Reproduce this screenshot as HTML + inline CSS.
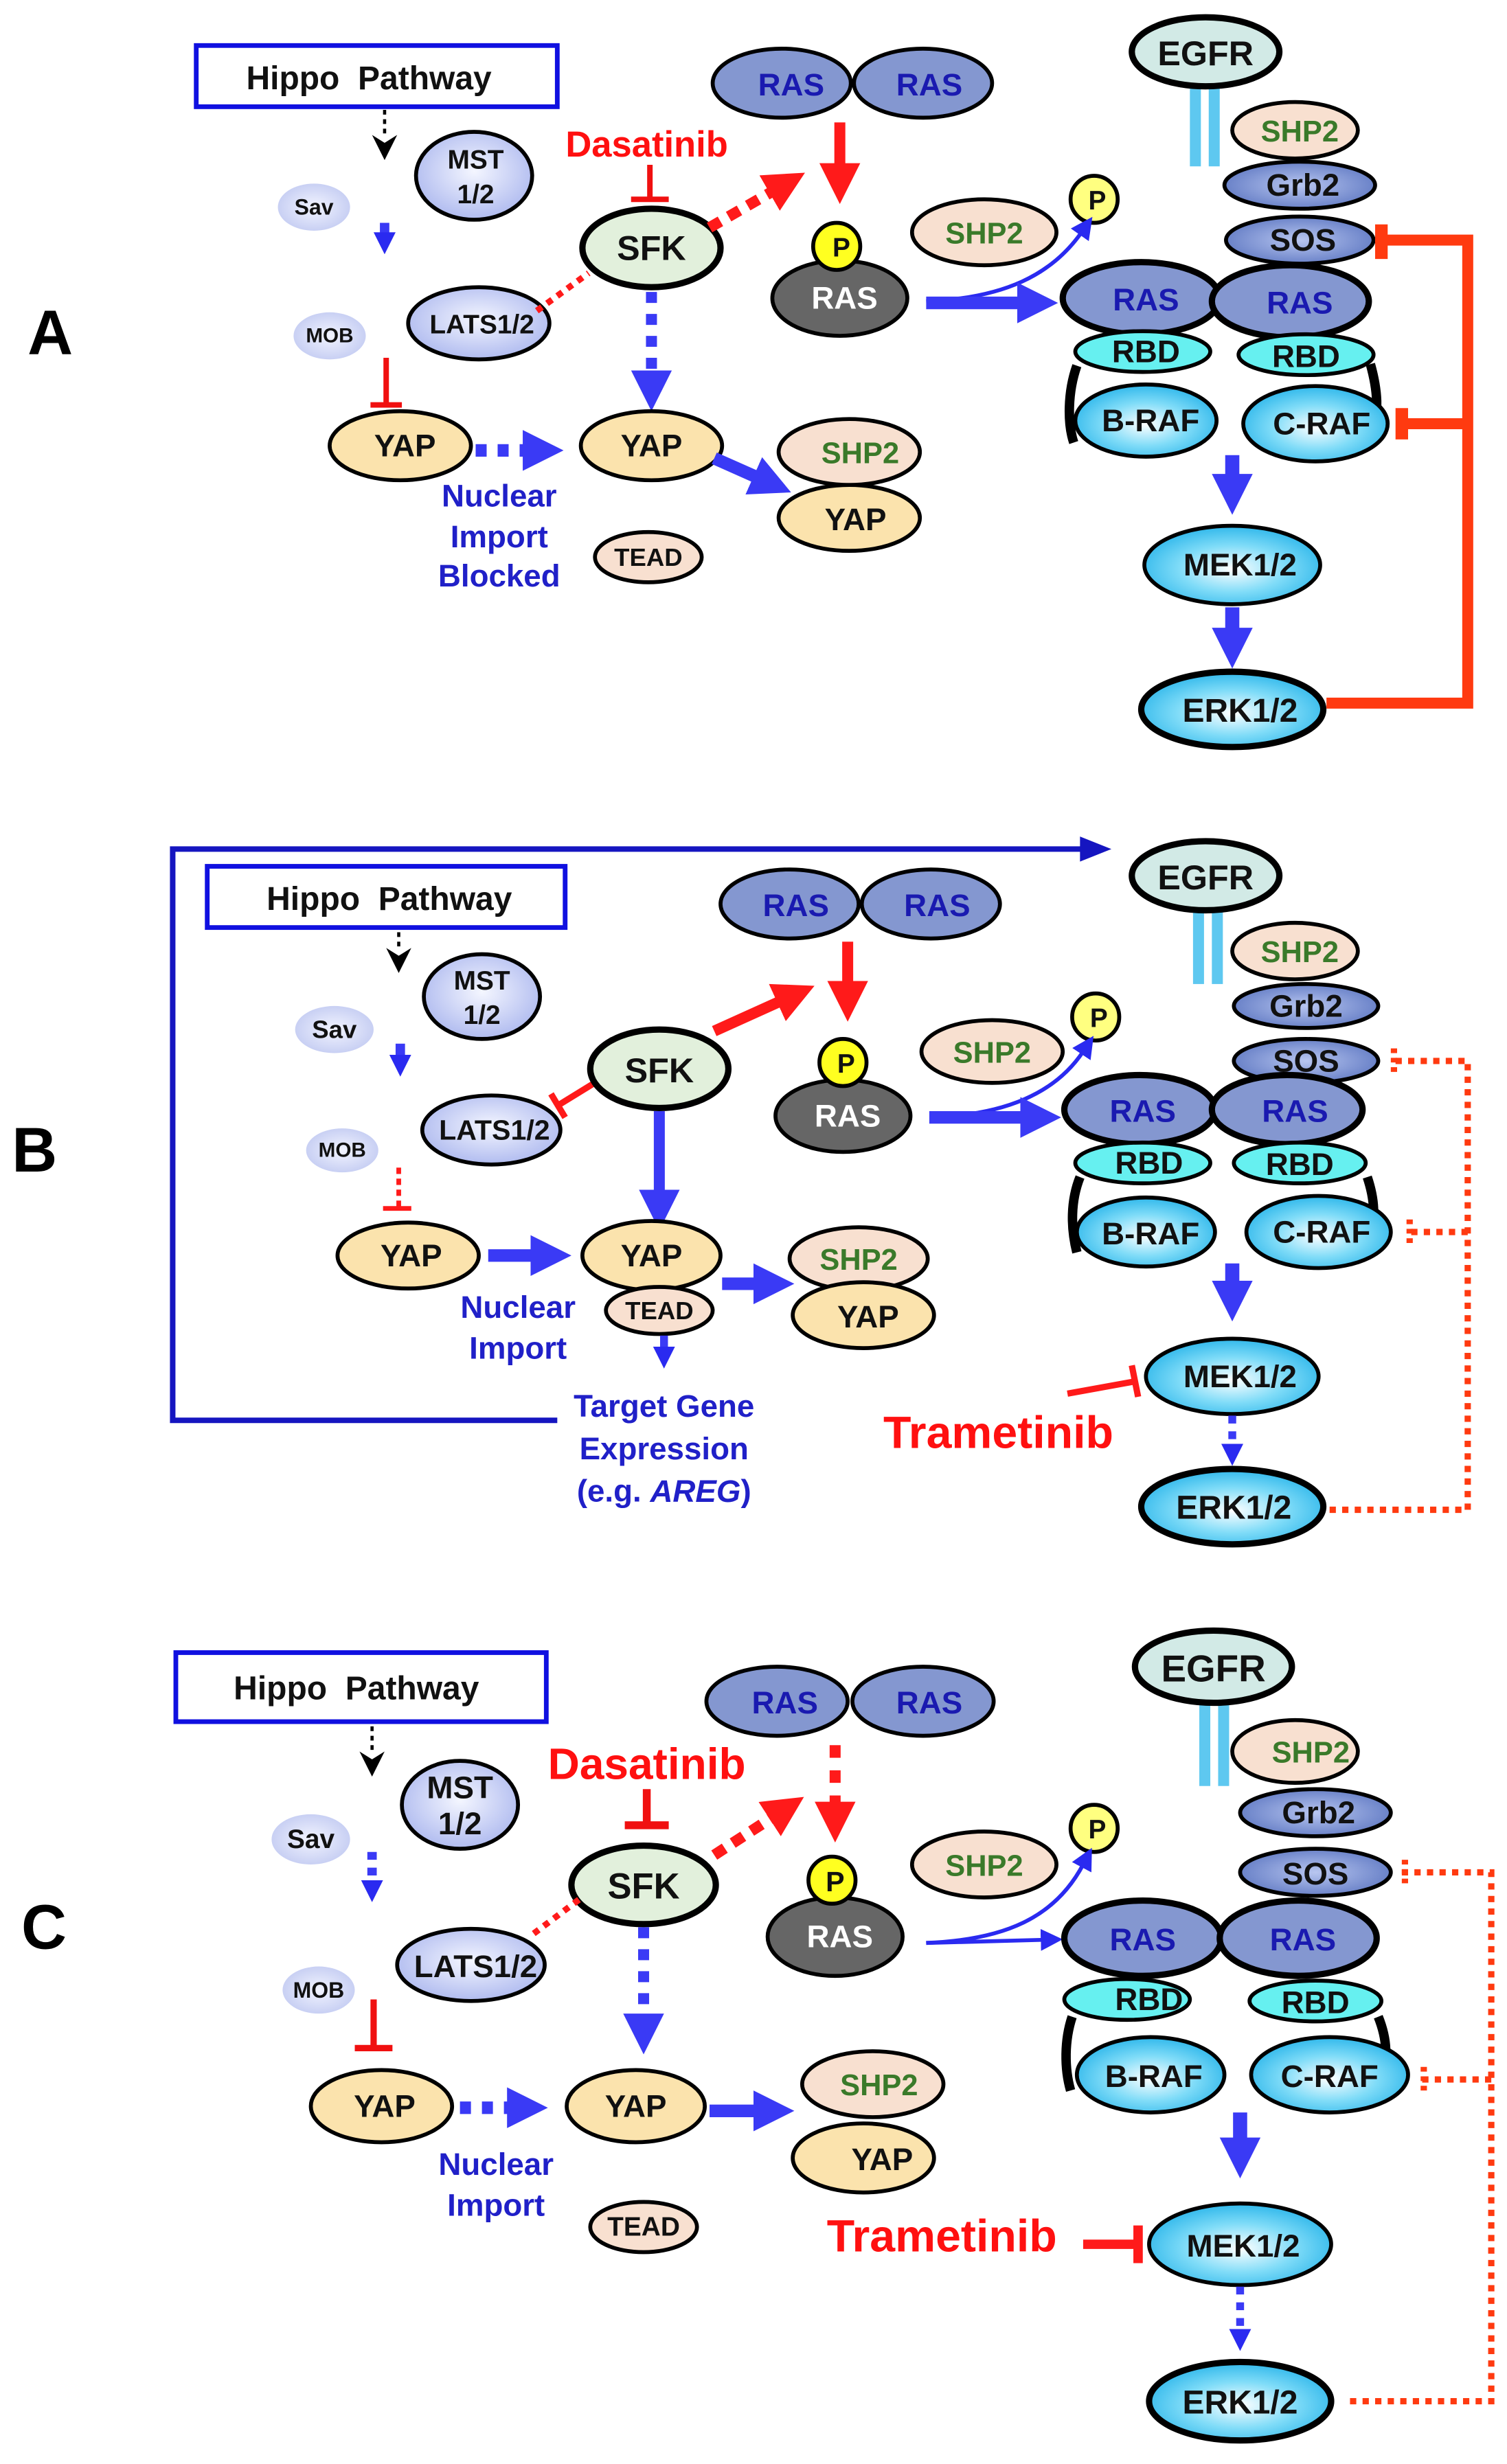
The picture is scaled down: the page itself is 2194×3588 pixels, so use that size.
<!DOCTYPE html>
<html><head><meta charset="utf-8"><style>
html,body{margin:0;padding:0;background:#fff}
svg{display:block}
text{font-family:"Liberation Sans",Arial,sans-serif;font-weight:bold;text-anchor:middle;dominant-baseline:central}
.k{stroke:#000;stroke-width:2.5}
.kk{stroke:#000;stroke-width:4}
.lav{fill:url(#gl)}
.pale{fill:url(#gp)}
.ras{fill:#8497d0}
.yap{fill:#fbe3ad}
.shp{fill:#f8e0d0}
.cy{fill:url(#gc)}
.rbd{fill:#66f0f0}
.gs{fill:url(#gs)}
.t{font-size:20px;fill:#111}
.tb{font-size:20px;fill:#1a1ab0}
.tg{font-size:19px;fill:#3a7a2a}
.bl{fill:#2020c8;font-size:20px}
.red{fill:#ff1010}
</style></head><body>
<svg width="2194" height="3588" viewBox="0 0 960 1570" xmlns="http://www.w3.org/2000/svg">
<defs>
<radialGradient id="gl" cx="50%" cy="45%" r="60%"><stop offset="0" stop-color="#f4f6ff"/><stop offset="1" stop-color="#aab6ee"/></radialGradient>
<radialGradient id="gp" cx="50%" cy="50%" r="55%"><stop offset="0" stop-color="#f2f4ff"/><stop offset="1" stop-color="#c4ccf2"/></radialGradient>
<radialGradient id="gc" cx="50%" cy="55%" r="60%"><stop offset="0" stop-color="#ffffff"/><stop offset="0.5" stop-color="#80dcf8"/><stop offset="1" stop-color="#20b0e8"/></radialGradient>
<radialGradient id="gs" cx="50%" cy="50%" r="60%"><stop offset="0" stop-color="#b8c6f0"/><stop offset="1" stop-color="#5a74c0"/></radialGradient>
<marker id="mb" markerUnits="userSpaceOnUse" markerWidth="30" markerHeight="30" refX="2" refY="15" orient="auto"><path d="M0,2 L26,15 L0,28 Z" fill="#3a3af5"/></marker>
<marker id="mbs" markerUnits="userSpaceOnUse" markerWidth="16" markerHeight="16" refX="2" refY="8" orient="auto"><path d="M0,1 L14,8 L0,15 Z" fill="#2a2af0"/></marker>
<marker id="mr" markerUnits="userSpaceOnUse" markerWidth="30" markerHeight="30" refX="2" refY="15" orient="auto"><path d="M0,2 L26,15 L0,28 Z" fill="#ff1a1a"/></marker>
<marker id="mk" markerUnits="userSpaceOnUse" markerWidth="16" markerHeight="22" refX="2" refY="11" orient="auto"><path d="M0,3 L16,11 L0,19 L5,11 Z" fill="#000"/></marker>
</defs>

<!-- ================= PANEL A ================= -->
<text x="32" y="212" style="font-size:40px;font-weight:bold;fill:#000">A</text>
<rect x="125" y="29" width="230" height="39" fill="#fff" stroke="#1010e0" stroke-width="3"/>
<text x="235" y="50" class="t" style="font-size:21px">Hippo&#160;&#160;Pathway</text>
<line x1="245" y1="70" x2="245" y2="88" stroke="#000" stroke-width="2" stroke-dasharray="3,3" marker-end="url(#mk)"/>
<ellipse cx="302" cy="112" rx="37" ry="28" class="k lav"/><text x="303" y="102" class="t" style="font-size:17px">MST</text><text x="303" y="124" class="t" style="font-size:17px">1/2</text>
<ellipse cx="200" cy="132" rx="23" ry="15" class="pale"/><text x="200" y="132" class="t" style="font-size:14px">Sav</text>
<line x1="245" y1="142" x2="245" y2="150" stroke="#3a3af5" stroke-width="6" marker-end="url(#mbs)"/>
<ellipse cx="210" cy="214" rx="23" ry="15" class="pale"/><text x="210" y="214" class="t" style="font-size:13px">MOB</text>
<ellipse cx="305" cy="206" rx="45" ry="23" class="k lav"/><text x="307" y="207" class="t" style="font-size:17px">LATS1/2</text>
<line x1="246" y1="228" x2="246" y2="258" stroke="#f01010" stroke-width="3.5"/><line x1="236" y1="258" x2="256" y2="258" stroke="#f01010" stroke-width="3.5"/>
<ellipse cx="255" cy="284" rx="45" ry="22" class="k yap"/><text x="258" y="284" class="t">YAP</text>
<line x1="303" y1="287" x2="335" y2="287" stroke="#3a3af5" stroke-width="8" stroke-dasharray="7,7" marker-end="url(#mb)"/>
<text x="318" y="316" class="bl">Nuclear</text><text x="318" y="342" class="bl">Import</text><text x="318" y="367" class="bl">Blocked</text>
<ellipse cx="498" cy="53" rx="44" ry="22" class="k ras"/><text x="504" y="54" class="tb">RAS</text>
<ellipse cx="588" cy="53" rx="44" ry="22" class="k ras"/><text x="592" y="54" class="tb">RAS</text>
<text x="412" y="92" class="red" style="font-size:23px">Dasatinib</text>
<line x1="414" y1="105" x2="414" y2="127" stroke="#f01010" stroke-width="3.5"/><line x1="402" y1="127" x2="426" y2="127" stroke="#f01010" stroke-width="3.5"/>
<ellipse cx="415" cy="158" rx="44" ry="25" class="kk" fill="#e2f0dc"/><text x="415" y="158" class="t" style="font-size:22px">SFK</text>
<line x1="452" y1="145" x2="492" y2="122" stroke="#ff1a1a" stroke-width="7" stroke-dasharray="8,6" marker-end="url(#mr)"/>
<line x1="535" y1="78" x2="535" y2="106" stroke="#ff1a1a" stroke-width="7" marker-end="url(#mr)"/>
<line x1="342" y1="198" x2="375" y2="174" stroke="#ff1a1a" stroke-width="4" stroke-dasharray="4,4"/>
<line x1="415" y1="186" x2="415" y2="238" stroke="#3a3af5" stroke-width="7" stroke-dasharray="7,7" marker-end="url(#mb)"/>
<ellipse cx="535" cy="190" rx="43" ry="24" class="k" fill="#666"/><text x="538" y="190" style="font-size:20px;fill:#fff">RAS</text>
<circle cx="533" cy="157" r="15" class="k" fill="#ffff20"/><text x="536" y="158" class="t" style="font-size:17px">P</text>
<ellipse cx="415" cy="284" rx="45" ry="22" class="k yap"/><text x="415" y="284" class="t">YAP</text>
<line x1="455" y1="292" x2="482" y2="304" stroke="#3a3af5" stroke-width="8" marker-end="url(#mb)"/>
<ellipse cx="541" cy="288" rx="45" ry="21" class="k shp"/><text x="548" y="289" class="tg">SHP2</text>
<ellipse cx="541" cy="330" rx="45" ry="21" class="k yap"/><text x="545" y="331" class="t">YAP</text>
<ellipse cx="413" cy="355" rx="34" ry="16" class="k shp"/><text x="413" y="355" class="t" style="font-size:16px">TEAD</text>
<ellipse cx="627" cy="148" rx="46" ry="21" class="k shp"/><text x="627" y="149" class="tg">SHP2</text>
<circle cx="697" cy="127" r="15" class="k" fill="#ffff80"/><text x="699" y="128" class="t" style="font-size:17px">P</text>
<path d="M590,192 C640,190 670,175 689,148" fill="none" stroke="#2a2af0" stroke-width="2.5" marker-end="url(#mbs)"/>
<line x1="590" y1="193" x2="650" y2="193" stroke="#3a3af5" stroke-width="8" marker-end="url(#mb)"/>
<rect x="758" y="50" width="7" height="56" fill="#5ec8f0"/><rect x="770" y="50" width="7" height="56" fill="#5ec8f0"/>
<ellipse cx="768" cy="33" rx="47" ry="22" class="kk" fill="#d2eae6"/><text x="768" y="34" class="t" style="font-size:22px">EGFR</text>
<ellipse cx="825" cy="83" rx="40" ry="18" class="k shp"/><text x="828" y="84" class="tg">SHP2</text>
<ellipse cx="828" cy="118" rx="48" ry="15" class="k gs"/><text x="830" y="118" class="t">Grb2</text>
<ellipse cx="828" cy="153" rx="47" ry="15" class="k gs"/><text x="830" y="153" class="t">SOS</text>
<ellipse cx="727" cy="190" rx="50" ry="23" class="kk ras"/><text x="730" y="191" class="tb">RAS</text>
<ellipse cx="822" cy="192" rx="50" ry="23" class="kk ras"/><text x="828" y="193" class="tb">RAS</text>
<path d="M686,233 C680,250 680,270 684,282" fill="none" stroke="#000" stroke-width="6"/>
<path d="M873,232 C878,250 878,262 875,275" fill="none" stroke="#000" stroke-width="6"/>
<ellipse cx="728" cy="224" rx="43" ry="13" class="k rbd"/><text x="730" y="224" class="t">RBD</text>
<ellipse cx="832" cy="226" rx="43" ry="13" class="k rbd"/><text x="832" y="227" class="t">RBD</text>
<ellipse cx="730" cy="268" rx="45" ry="23" class="k cy"/><text x="733" y="268" class="t">B-RAF</text>
<ellipse cx="838" cy="270" rx="46" ry="24" class="k cy"/><text x="842" y="270" class="t">C-RAF</text>
<line x1="785" y1="290" x2="785" y2="304" stroke="#3a3af5" stroke-width="9" marker-end="url(#mb)"/>
<ellipse cx="785" cy="360" rx="56" ry="25" class="k cy"/><text x="790" y="360" class="t">MEK1/2</text>
<line x1="785" y1="387" x2="785" y2="402" stroke="#3a3af5" stroke-width="9" marker-end="url(#mb)"/>
<ellipse cx="785" cy="452" rx="58" ry="24" class="kk cy"/><text x="790" y="453" class="t" style="font-size:21px">ERK1/2</text>
<path d="M845,448 H935 V153 H880 M935,270 H893" fill="none" stroke="#ff3a10" stroke-width="7"/>
<line x1="880" y1="143" x2="880" y2="165" stroke="#ff3a10" stroke-width="8"/>
<line x1="893" y1="260" x2="893" y2="280" stroke="#ff3a10" stroke-width="8"/>

<!-- ================= PANEL B ================= -->
<text x="22" y="733" style="font-size:40px;font-weight:bold;fill:#000">B</text>
<path d="M355,905 H110 V541 H690" fill="none" stroke="#1515c0" stroke-width="3.5"/>
<path d="M688,533 L708,541 L688,549 Z" fill="#1515c0"/>
<rect x="132" y="552" width="228" height="39" fill="#fff" stroke="#1010e0" stroke-width="3"/>
<text x="248" y="573" class="t" style="font-size:21px">Hippo&#160;&#160;Pathway</text>
<line x1="254" y1="594" x2="254" y2="606" stroke="#000" stroke-width="2" stroke-dasharray="3,3" marker-end="url(#mk)"/>
<ellipse cx="307" cy="635" rx="37" ry="27" class="k lav"/><text x="307" y="625" class="t" style="font-size:17px">MST</text><text x="307" y="647" class="t" style="font-size:17px">1/2</text>
<ellipse cx="213" cy="656" rx="25" ry="15" class="pale"/><text x="213" y="656" class="t" style="font-size:16px">Sav</text>
<line x1="255" y1="665" x2="255" y2="674" stroke="#3a3af5" stroke-width="6" marker-end="url(#mbs)"/>
<ellipse cx="218" cy="733" rx="23" ry="14" class="pale"/><text x="218" y="733" class="t" style="font-size:13px">MOB</text>
<ellipse cx="313" cy="720" rx="44" ry="22" class="k lav"/><text x="315" y="720" class="t" style="font-size:18px">LATS1/2</text>
<line x1="254" y1="744" x2="254" y2="770" stroke="#ff1a1a" stroke-width="3" stroke-dasharray="4,3"/><line x1="244" y1="770" x2="262" y2="770" stroke="#ff1a1a" stroke-width="3"/>
<ellipse cx="260" cy="800" rx="45" ry="21" class="k yap"/><text x="262" y="800" class="t">YAP</text>
<line x1="311" y1="800" x2="340" y2="800" stroke="#3a3af5" stroke-width="8" marker-end="url(#mb)"/>
<text x="330" y="833" class="bl">Nuclear</text><text x="330" y="859" class="bl">Import</text>
<ellipse cx="503" cy="576" rx="44" ry="22" class="k ras"/><text x="507" y="577" class="tb">RAS</text>
<ellipse cx="593" cy="576" rx="44" ry="22" class="k ras"/><text x="597" y="577" class="tb">RAS</text>
<line x1="540" y1="600" x2="540" y2="627" stroke="#ff1a1a" stroke-width="7" marker-end="url(#mr)"/>
<line x1="455" y1="657" x2="497" y2="638" stroke="#ff1a1a" stroke-width="7" marker-end="url(#mr)"/>
<line x1="382" y1="688" x2="356" y2="704" stroke="#ff1a1a" stroke-width="4"/><line x1="351" y1="697" x2="360" y2="712" stroke="#ff1a1a" stroke-width="4"/>
<ellipse cx="420" cy="681" rx="44" ry="25" class="kk" fill="#e2f0dc"/><text x="420" y="682" class="t" style="font-size:22px">SFK</text>
<line x1="420" y1="708" x2="420" y2="760" stroke="#3a3af5" stroke-width="7" marker-end="url(#mb)"/>
<ellipse cx="537" cy="711" rx="43" ry="23" class="k" fill="#666"/><text x="540" y="711" style="font-size:20px;fill:#fff">RAS</text>
<circle cx="537" cy="677" r="15" class="k" fill="#ffff20"/><text x="539" y="678" class="t" style="font-size:17px">P</text>
<ellipse cx="415" cy="800" rx="44" ry="22" class="k yap"/><text x="415" y="800" class="t">YAP</text>
<ellipse cx="420" cy="835" rx="34" ry="15" class="k shp"/><text x="420" y="835" class="t" style="font-size:16px">TEAD</text>
<line x1="423" y1="851" x2="423" y2="860" stroke="#3a3af5" stroke-width="5" marker-end="url(#mbs)"/>
<text x="423" y="896" class="bl">Target Gene</text><text x="423" y="923" class="bl">Expression</text>
<text x="423" y="950" class="bl">(e.g. <tspan style="font-style:italic">AREG</tspan>)</text>
<line x1="460" y1="818" x2="482" y2="818" stroke="#3a3af5" stroke-width="8" marker-end="url(#mb)"/>
<ellipse cx="547" cy="802" rx="44" ry="20" class="k shp"/><text x="547" y="803" class="tg">SHP2</text>
<ellipse cx="550" cy="838" rx="45" ry="21" class="k yap"/><text x="553" y="839" class="t">YAP</text>
<ellipse cx="632" cy="670" rx="45" ry="20" class="k shp"/><text x="632" y="671" class="tg">SHP2</text>
<circle cx="698" cy="648" r="15" class="k" fill="#ffff80"/><text x="700" y="649" class="t" style="font-size:17px">P</text>
<path d="M595,712 C640,710 672,697 690,670" fill="none" stroke="#2a2af0" stroke-width="2.5" marker-end="url(#mbs)"/>
<line x1="592" y1="712" x2="652" y2="712" stroke="#3a3af5" stroke-width="8" marker-end="url(#mb)"/>
<rect x="760" y="575" width="7" height="52" fill="#5ec8f0"/><rect x="772" y="575" width="7" height="52" fill="#5ec8f0"/>
<ellipse cx="768" cy="558" rx="47" ry="22" class="kk" fill="#d2eae6"/><text x="768" y="559" class="t" style="font-size:22px">EGFR</text>
<ellipse cx="825" cy="606" rx="40" ry="18" class="k shp"/><text x="828" y="607" class="tg">SHP2</text>
<ellipse cx="832" cy="641" rx="46" ry="14" class="k gs"/><text x="832" y="641" class="t">Grb2</text>
<ellipse cx="832" cy="676" rx="46" ry="14" class="k gs"/><text x="832" y="676" class="t">SOS</text>
<ellipse cx="726" cy="707" rx="48" ry="22" class="kk ras"/><text x="728" y="708" class="tb">RAS</text>
<ellipse cx="820" cy="707" rx="48" ry="22" class="kk ras"/><text x="825" y="708" class="tb">RAS</text>
<path d="M688,750 C682,765 682,782 686,798" fill="none" stroke="#000" stroke-width="6"/>
<path d="M871,750 C876,765 876,775 873,790" fill="none" stroke="#000" stroke-width="6"/>
<ellipse cx="728" cy="741" rx="43" ry="13" class="k rbd"/><text x="732" y="741" class="t">RBD</text>
<ellipse cx="828" cy="741" rx="42" ry="13" class="k rbd"/><text x="828" y="742" class="t">RBD</text>
<ellipse cx="730" cy="785" rx="44" ry="22" class="k cy"/><text x="733" y="786" class="t">B-RAF</text>
<ellipse cx="840" cy="785" rx="46" ry="23" class="k cy"/><text x="842" y="785" class="t">C-RAF</text>
<line x1="785" y1="805" x2="785" y2="818" stroke="#3a3af5" stroke-width="9" marker-end="url(#mb)"/>
<ellipse cx="785" cy="877" rx="55" ry="24" class="k cy"/><text x="790" y="877" class="t">MEK1/2</text>
<text x="636" y="913" class="red" style="font-size:29px">Trametinib</text>
<line x1="680" y1="888" x2="724" y2="880" stroke="#ff1a1a" stroke-width="4"/><line x1="721" y1="870" x2="725" y2="890" stroke="#ff1a1a" stroke-width="4"/>
<line x1="785" y1="902" x2="785" y2="922" stroke="#3a3af5" stroke-width="5" stroke-dasharray="5,5" marker-end="url(#mbs)"/>
<ellipse cx="785" cy="960" rx="58" ry="24" class="kk cy"/><text x="786" y="961" class="t" style="font-size:21px">ERK1/2</text>
<path d="M847,962 H935 V676 H885 M935,785 H895" fill="none" stroke="#ff3a10" stroke-width="4" stroke-dasharray="4,4"/>
<line x1="888" y1="668" x2="888" y2="684" stroke="#ff3a10" stroke-width="4" stroke-dasharray="3,3"/>
<line x1="898" y1="777" x2="898" y2="793" stroke="#ff3a10" stroke-width="4" stroke-dasharray="3,3"/>

<!-- ================= PANEL C ================= -->
<text x="28" y="1228" style="font-size:40px;font-weight:bold;fill:#000">C</text>
<rect x="112" y="1053" width="236" height="44" fill="#fff" stroke="#1010e0" stroke-width="3"/>
<text x="227" y="1076" class="t" style="font-size:21px">Hippo&#160;&#160;Pathway</text>
<line x1="237" y1="1100" x2="237" y2="1118" stroke="#000" stroke-width="2" stroke-dasharray="3,3" marker-end="url(#mk)"/>
<ellipse cx="293" cy="1150" rx="37" ry="28" class="k lav"/><text x="293" y="1139" class="t">MST</text><text x="293" y="1162" class="t">1/2</text>
<ellipse cx="198" cy="1172" rx="25" ry="16" class="pale"/><text x="198" y="1172" class="t" style="font-size:17px">Sav</text>
<line x1="237" y1="1180" x2="237" y2="1200" stroke="#3a3af5" stroke-width="6" stroke-dasharray="5,5" marker-end="url(#mbs)"/>
<ellipse cx="203" cy="1268" rx="23" ry="15" class="pale"/><text x="203" y="1268" class="t" style="font-size:14px">MOB</text>
<ellipse cx="300" cy="1252" rx="47" ry="23" class="k lav"/><text x="303" y="1253" class="t">LATS1/2</text>
<line x1="238" y1="1274" x2="238" y2="1305" stroke="#f01010" stroke-width="4"/><line x1="226" y1="1305" x2="250" y2="1305" stroke="#f01010" stroke-width="4"/>
<ellipse cx="243" cy="1342" rx="45" ry="23" class="k yap"/><text x="245" y="1342" class="t">YAP</text>
<line x1="293" y1="1343" x2="325" y2="1343" stroke="#3a3af5" stroke-width="8" stroke-dasharray="7,7" marker-end="url(#mb)"/>
<text x="316" y="1379" class="bl">Nuclear</text><text x="316" y="1405" class="bl">Import</text>
<ellipse cx="495" cy="1084" rx="45" ry="22" class="k ras"/><text x="500" y="1085" class="tb">RAS</text>
<ellipse cx="588" cy="1084" rx="45" ry="22" class="k ras"/><text x="592" y="1085" class="tb">RAS</text>
<text x="412" y="1124" class="red" style="font-size:28px">Dasatinib</text>
<line x1="412" y1="1140" x2="412" y2="1163" stroke="#f01010" stroke-width="5"/><line x1="398" y1="1163" x2="426" y2="1163" stroke="#f01010" stroke-width="5"/>
<ellipse cx="410" cy="1201" rx="46" ry="25" class="kk" fill="#e2f0dc"/><text x="410" y="1202" class="t" style="font-size:23px">SFK</text>
<line x1="455" y1="1182" x2="492" y2="1158" stroke="#ff1a1a" stroke-width="7" stroke-dasharray="8,6" marker-end="url(#mr)"/>
<line x1="532" y1="1112" x2="532" y2="1150" stroke="#ff1a1a" stroke-width="7" stroke-dasharray="8,8" marker-end="url(#mr)"/>
<line x1="340" y1="1232" x2="372" y2="1208" stroke="#ff1a1a" stroke-width="4" stroke-dasharray="4,4"/>
<line x1="410" y1="1228" x2="410" y2="1285" stroke="#3a3af5" stroke-width="7" stroke-dasharray="7,7" marker-end="url(#mb)"/>
<ellipse cx="532" cy="1234" rx="43" ry="25" class="k" fill="#666"/><text x="535" y="1234" style="font-size:20px;fill:#fff">RAS</text>
<circle cx="530" cy="1198" r="15" class="k" fill="#ffff20"/><text x="532" y="1199" class="t" style="font-size:18px">P</text>
<ellipse cx="405" cy="1342" rx="44" ry="23" class="k yap"/><text x="405" y="1342" class="t">YAP</text>
<line x1="452" y1="1345" x2="482" y2="1345" stroke="#3a3af5" stroke-width="8" marker-end="url(#mb)"/>
<ellipse cx="556" cy="1328" rx="45" ry="21" class="k shp"/><text x="560" y="1329" class="tg">SHP2</text>
<ellipse cx="550" cy="1375" rx="45" ry="22" class="k yap"/><text x="562" y="1376" class="t">YAP</text>
<ellipse cx="410" cy="1419" rx="34" ry="16" class="k shp"/><text x="410" y="1419" class="t" style="font-size:17px">TEAD</text>
<ellipse cx="627" cy="1188" rx="46" ry="21" class="k shp"/><text x="627" y="1189" class="tg">SHP2</text>
<circle cx="697" cy="1165" r="15" class="k" fill="#ffff80"/><text x="699" y="1166" class="t" style="font-size:17px">P</text>
<path d="M590,1238 C640,1236 672,1222 690,1188" fill="none" stroke="#2a2af0" stroke-width="2.5" marker-end="url(#mbs)"/>
<line x1="590" y1="1238" x2="665" y2="1236" stroke="#2a2af0" stroke-width="2.5" marker-end="url(#mbs)"/>
<rect x="764" y="1082" width="7" height="56" fill="#5ec8f0"/><rect x="776" y="1082" width="7" height="56" fill="#5ec8f0"/>
<ellipse cx="773" cy="1062" rx="50" ry="23" class="kk" fill="#d2eae6"/><text x="773" y="1063" class="t" style="font-size:24px">EGFR</text>
<ellipse cx="825" cy="1116" rx="40" ry="20" class="k shp"/><text x="835" y="1117" class="tg">SHP2</text>
<ellipse cx="838" cy="1155" rx="48" ry="15" class="k gs"/><text x="840" y="1155" class="t">Grb2</text>
<ellipse cx="838" cy="1193" rx="48" ry="15" class="k gs"/><text x="838" y="1194" class="t">SOS</text>
<ellipse cx="728" cy="1235" rx="50" ry="24" class="kk ras"/><text x="728" y="1236" class="tb">RAS</text>
<ellipse cx="827" cy="1235" rx="50" ry="24" class="kk ras"/><text x="830" y="1236" class="tb">RAS</text>
<path d="M683,1285 C678,1300 678,1318 682,1332" fill="none" stroke="#000" stroke-width="6"/>
<path d="M878,1285 C884,1300 884,1312 880,1325" fill="none" stroke="#000" stroke-width="6"/>
<ellipse cx="718" cy="1274" rx="40" ry="13" class="k rbd"/><text x="732" y="1274" class="t">RBD</text>
<ellipse cx="838" cy="1275" rx="42" ry="13" class="k rbd"/><text x="838" y="1276" class="t">RBD</text>
<ellipse cx="733" cy="1322" rx="47" ry="24" class="k cy"/><text x="735" y="1323" class="t">B-RAF</text>
<ellipse cx="847" cy="1322" rx="50" ry="24" class="k cy"/><text x="847" y="1323" class="t">C-RAF</text>
<line x1="790" y1="1346" x2="790" y2="1364" stroke="#3a3af5" stroke-width="9" marker-end="url(#mb)"/>
<ellipse cx="790" cy="1430" rx="58" ry="26" class="k cy"/><text x="792" y="1431" class="t">MEK1/2</text>
<text x="600" y="1425" class="red" style="font-size:29px">Trametinib</text>
<line x1="690" y1="1430" x2="725" y2="1430" stroke="#ff1a1a" stroke-width="6"/><line x1="725" y1="1418" x2="725" y2="1442" stroke="#ff1a1a" stroke-width="6"/>
<line x1="790" y1="1457" x2="790" y2="1486" stroke="#3a3af5" stroke-width="5" stroke-dasharray="5,5" marker-end="url(#mbs)"/>
<ellipse cx="790" cy="1530" rx="58" ry="25" class="kk cy"/><text x="790" y="1531" class="t" style="font-size:21px">ERK1/2</text>
<path d="M860,1530 H950 V1193 H893 M950,1325 H905" fill="none" stroke="#ff3a10" stroke-width="4" stroke-dasharray="4,4"/>
<line x1="895" y1="1185" x2="895" y2="1201" stroke="#ff3a10" stroke-width="4" stroke-dasharray="3,3"/>
<line x1="907" y1="1317" x2="907" y2="1333" stroke="#ff3a10" stroke-width="4" stroke-dasharray="3,3"/>
</svg>
</body></html>
